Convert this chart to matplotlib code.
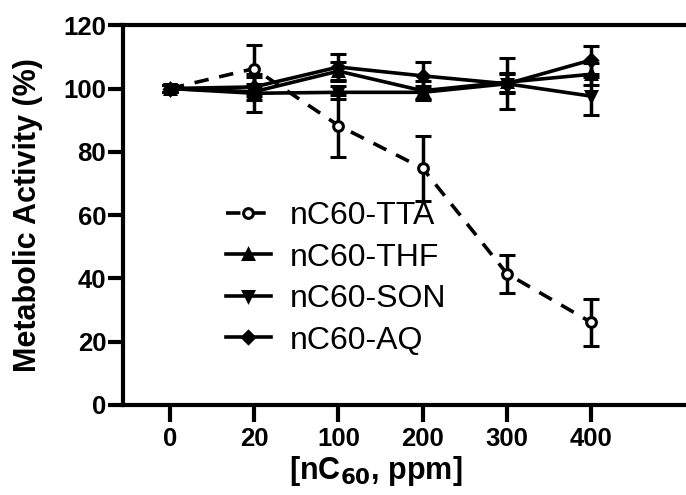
import numpy as np
import matplotlib.pyplot as plt

# concentrations, treated as evenly spaced categories
conc_labels = ["0", "20", "100", "200", "300", "400"]

tta = [100, 106.3, 88.3, 74.8, 41.5, 26.1]
tta_err = [1.0, 7.6, 9.8, 10.3, 6.0, 7.4]

thf = [100, 99.0, 105.5, 99.3, 102.0, 104.5]
thf_err = [1.0, 2.5, 3.0, 3.0, 3.0, 3.5]

son = [100, 98.5, 98.8, 98.8, 101.5, 97.6]
son_err = [1.0, 6.0, 2.0, 2.0, 8.0, 6.0]

aq = [100, 100.5, 106.8, 104.0, 101.5, 109.0]
aq_err = [1.0, 3.0, 4.0, 4.3, 3.0, 4.5]

plt.rcParams['font.family'] = ['Liberation Sans', 'DejaVu Sans']

fig = plt.figure(figsize=(6.86, 4.95), dpi=100)
ax = fig.add_axes([0.179, 0.182, 0.83, 0.767])

x = np.arange(len(conc_labels))
lw = 2.6

series = [
    (tta, tta_err, 'o', (0, (4, 3)), 'nC60-TTA', 'white'),
    (thf, thf_err, '^', '-', 'nC60-THF', 'black'),
    (son, son_err, 'v', '-', 'nC60-SON', 'black'),
    (aq, aq_err, 'D', '-', 'nC60-AQ', 'black'),
]

handles = []
for vals, err, mk, ls, lab, face in series:
    cont = ax.errorbar(x, vals, yerr=err, color='black', marker=mk, ms=7 if mk != 'D' else 6,
                       mfc=face, mec='black', mew=2.2, ls=ls, lw=lw,
                       elinewidth=2.5, capsize=6, capthick=2.5, zorder=3)
    handles.append(cont[0])

ax.set_xlim(-0.56, 6.2)
ax.set_ylim(0, 120)
ax.set_yticks(np.arange(0, 121, 20))
ax.set_xticks(x)
ax.set_xticklabels(conc_labels)

for s in ['left', 'bottom', 'top']:
    ax.spines[s].set_linewidth(3)
ax.spines['right'].set_visible(False)
ax.tick_params(axis='y', direction='out', length=11, width=3, labelsize=18.5, pad=1)
ax.tick_params(axis='x', direction='out', length=12, width=3, labelsize=18.5, pad=4)
for t in ax.get_xticklabels() + ax.get_yticklabels():
    t.set_fontweight('bold')

ax.set_ylabel('Metabolic Activity (%)', fontsize=22, fontweight='bold')
ax.yaxis.set_label_coords(-0.14, 0.5)
ax.set_xlabel('[nC$_{\\mathbf{60}}$, ppm]', fontsize=22, fontweight='bold')
ax.xaxis.set_label_coords(0.445, -0.13)

ax.legend(handles, [s[4] for s in series], loc='upper left', bbox_to_anchor=(0.153, 0.579),
          frameon=False, fontsize=23, handlelength=1.4, handletextpad=0.6,
          labelspacing=0.36, borderpad=0)

fig.savefig('out.png', dpi=100)
